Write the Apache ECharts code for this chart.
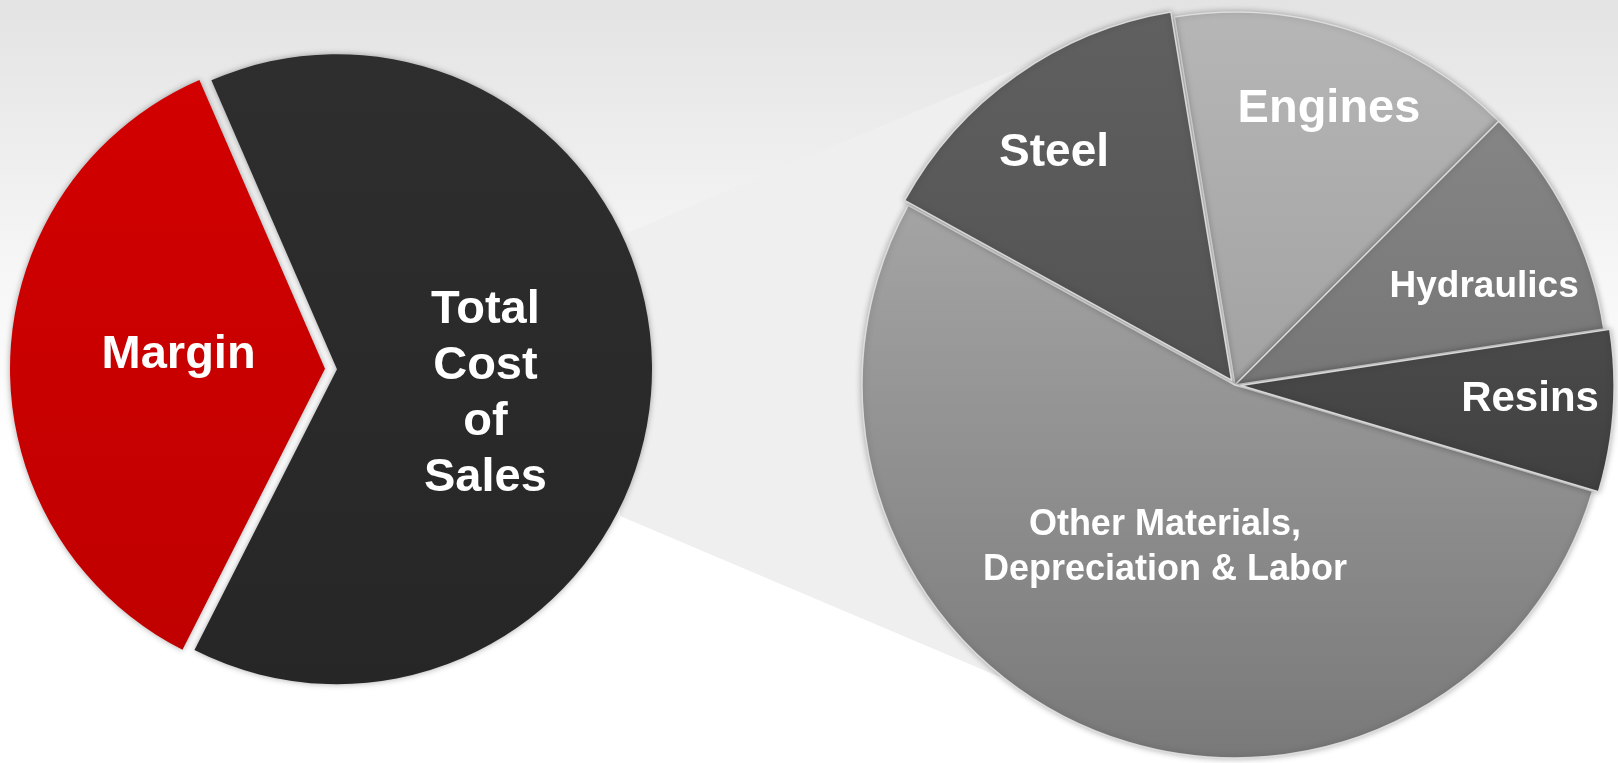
<!DOCTYPE html>
<html>
<head>
<meta charset="utf-8">
<script src="https://cdn.jsdelivr.net/npm/echarts@6/dist/echarts.min.js"></script>
<style>
  html, body { margin: 0; padding: 0; }
  #main { width: 1618px; height: 763px; }
</style>
</head>
<body>
<div id="main"></div>
<script>
// left pie: sales split
var salesNames = ['Total\nCost\nof\nSales', 'Margin']
var salesValues = [64, 36]
// right pie: breakdown of the cost of sales
var costNames = ['Steel', 'Engines', 'Hydraulics', 'Resins', 'Other Materials,\nDepreciation & Labor']
var costValues = [14.4, 15.1, 10.1, 7.0, 53.4]

// label nudges from the default "inside" spot
var salesNudge = [[-12, 20], [14, -9]]
var costNudge = [[-68, -72], [36, -96], [80, -13], [100, 1], [3, -12]]

function vgrad(top, bottom) {
  return new echarts.graphic.LinearGradient(0, 0, 0, 1, [
    { offset: 0, color: top },
    { offset: 1, color: bottom }
  ])
}

var salesColors = [vgrad('#2e2e2e', '#262626'), vgrad('#d20000', '#c00000')]
var costColors = [
  vgrad('#606060', '#525252'),
  vgrad('#b6b6b6', '#a2a2a2'),
  vgrad('#858585', '#767676'),
  vgrad('#4a4a4a', '#404040'),
  vgrad('#a4a4a4', '#797979')
]
var costFont = [46, 47, 37, 42, 36]

var myChart = echarts.init(document.getElementById('main'))
myChart.setOption({
  animation: false,
  backgroundColor: new echarts.graphic.LinearGradient(0, 0, 0, 1, [
    { offset: 0, color: '#e3e3e3' },
    { offset: 0.35, color: '#f6f6f6' },
    { offset: 0.6, color: '#ffffff' },
    { offset: 1, color: '#ffffff' }
  ]),
  graphic: [
    {
      // grey band joining the two pies (its far end hides behind the right pie)
      type: 'polygon',
      z: -1,
      shape: { points: [[627, 233], [1100, 34], [1150, 300], [1000, 677], [620, 516]] },
      style: { fill: '#efefef' }
    }
  ],
  series: [
    {
      type: 'pie',
      center: [331, 369],
      radius: 315,
      startAngle: 113.5,
      selectedMode: 'multiple',
      selectedOffset: 6,
      silent: true,
      itemStyle: {
        shadowBlur: 6,
        shadowColor: 'rgba(0,0,0,0.35)'
      },
      label: {
        position: 'inside',
        color: '#fff',
        fontFamily: 'Liberation Sans',
        fontWeight: 'bold',
        fontSize: 47,
        lineHeight: 56
      },
      labelLine: { show: false },
      labelLayout: function (p) {
        return { dx: salesNudge[p.dataIndex][0], dy: salesNudge[p.dataIndex][1] }
      },
      data: salesValues.map(function (v, i) {
        return { name: salesNames[i], value: v, selected: true, itemStyle: { color: salesColors[i] } }
      })
    },
    {
      type: 'pie',
      center: [1235, 385],
      radius: 373,
      startAngle: 151.2,
      selectedMode: 'multiple',
      selectedOffset: 6,
      silent: true,
      itemStyle: {
        borderColor: 'rgba(225,225,225,0.9)',
        borderWidth: 1.5,
        shadowBlur: 6,
        shadowColor: 'rgba(0,0,0,0.3)'
      },
      label: {
        position: 'inside',
        color: '#fff',
        fontFamily: 'Liberation Sans',
        fontWeight: 'bold',
        lineHeight: 45
      },
      labelLine: { show: false },
      labelLayout: function (p) {
        return { dx: costNudge[p.dataIndex][0], dy: costNudge[p.dataIndex][1] }
      },
      data: costValues.map(function (v, i) {
        return {
          name: costNames[i],
          value: v,
          selected: i === 0 || i === 3,
          itemStyle: { color: costColors[i] },
          label: { fontSize: costFont[i] }
        }
      })
    }
  ]
})
</script>
</body>
</html>
